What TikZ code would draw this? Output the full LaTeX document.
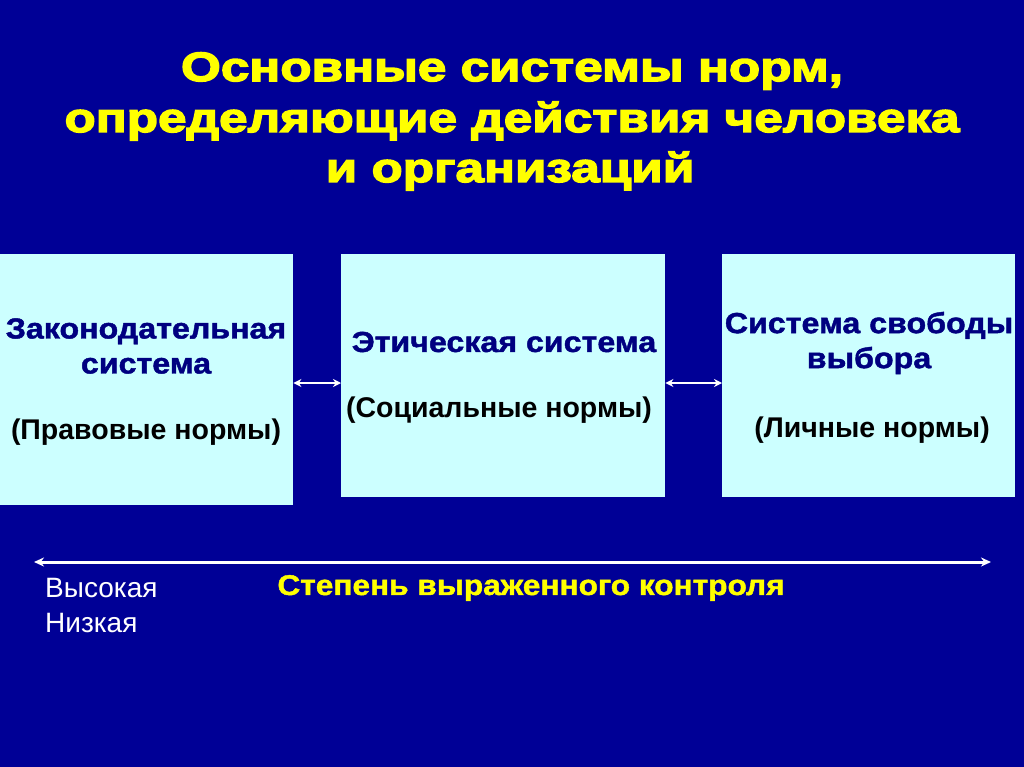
\documentclass[tikz,border=0pt]{standalone}
\usepackage{fontspec}
\setmainfont{Liberation Sans}
\newfontfamily\heavyfont{Liberation Sans}[BoldFeatures={FakeBold=3.5,FakeStretch=1.25}]
\newfontfamily\semiheavyfont{Liberation Sans}[BoldFeatures={FakeBold=1.5,FakeStretch=1.11}]
\usetikzlibrary{arrows.meta}
\definecolor{bgblue}{RGB}{0,0,150}
\definecolor{boxfill}{RGB}{204,255,255}
\definecolor{boxtitle}{RGB}{0,0,128}
\definecolor{ttl}{RGB}{255,255,0}
\tikzset{
  panel/.style={fill=boxfill, draw=none, anchor=north west, inner sep=0pt},
  titletext/.style={text=ttl, font=\heavyfont\bfseries\fontsize{41}{50}\selectfont, align=center, inner sep=0pt},
  boxhead/.style={text=boxtitle, font=\semiheavyfont\bfseries\fontsize{29}{35}\selectfont, align=center, inner sep=0pt},
  boxnote/.style={text=black, font=\bfseries\fontsize{28.5}{32}\selectfont, align=center, inner sep=0pt},
  link/.style={draw=white, line width=1.8pt, {Stealth[length=8pt,width=8pt]}-{Stealth[length=8pt,width=8pt]}},
  axisline/.style={draw=white, line width=3pt, {Stealth[length=10pt,width=9pt]}-{Stealth[length=10pt,width=9pt]}},
  plain/.style={text=white, font=\fontsize{28}{35}\selectfont, anchor=west, inner sep=0pt},
  scalelabel/.style={text=ttl, font=\semiheavyfont\bfseries\fontsize{28.5}{32}\selectfont, inner sep=0pt}
}
\begin{document}
\begin{tikzpicture}[x=1pt,y=-1pt]
\fill[bgblue] (0,0) rectangle (1024,767);
\useasboundingbox (0,0) rectangle (1024,767);
% title
\node[titletext] (t1) at (512,71) {Основные системы норм,};
\node[titletext] (t2) at (512,121) {определяющие действия человека};
\node[titletext] (t3) at (510,171) {и организаций};
% boxes
\node[panel, minimum width=293pt, minimum height=251pt] (b1) at (0,254) {};
\node[panel, minimum width=324pt, minimum height=243pt] (b2) at (341,254) {};
\node[panel, minimum width=293pt, minimum height=243pt] (b3) at (722,254) {};
% box texts
\node[boxhead] (h1) at (146,346) {Законодательная\\система};
\node[boxnote] (n1) at (146,432) {(Правовые нормы)};
\node[boxhead] (h2) at (504,342) {Этическая система};
\node[boxnote] (n2) at (499,410) {(Социальные нормы)};
\node[boxhead] (h3) at (869,343) {Система свободы\\выбора};
\node[boxnote] (n3) at (872,430) {(Личные нормы)};
% links
\draw[link] (b1.east |- 0,383) -- (b2.west |- 0,383);
\draw[link] (b2.east |- 0,383) -- (b3.west |- 0,383);
% axis
\coordinate (sL) at (34,562);
\coordinate (sR) at (991,562);
\draw[axisline] (sL) -- (sR);
\node[plain] (hi) at (45,588) {Высокая};
\node[plain] (lo) at (45,623) {Низкая};
\node[scalelabel] (sc) at (531,588) {Степень выраженного контроля};
\end{tikzpicture}
\end{document}
